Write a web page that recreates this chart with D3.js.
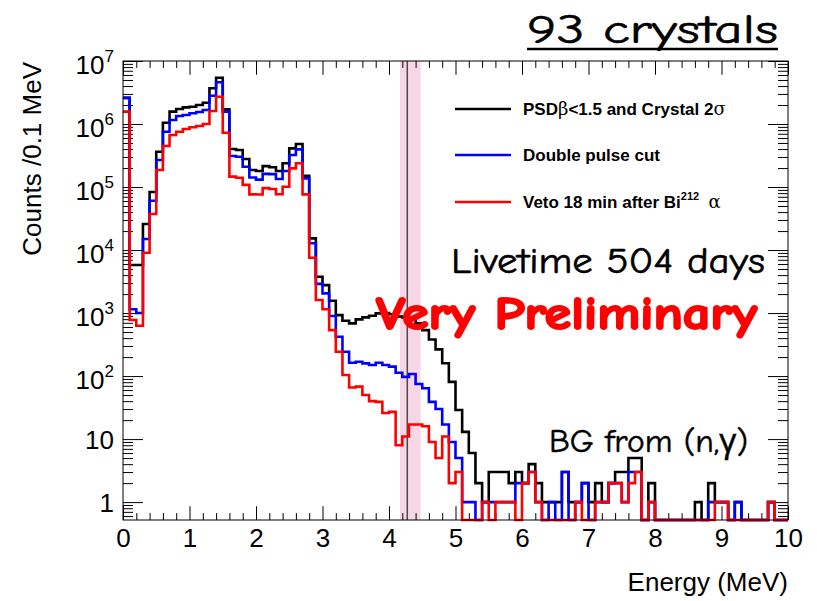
<!DOCTYPE html>
<html>
<head>
<meta charset="utf-8">
<script src="https://cdn.jsdelivr.net/npm/d3@7"></script>
<style>
  body { margin: 0; background: #fff; }
  svg { display: block; }
</style>
</head>
<body>
<svg id="chart" width="817" height="601"></svg>
<script>
// Energy spectrum, 100 bins of 0.1 MeV from 0 to 10 MeV
const binWidth = 0.1;
const energyRange = [0, 10];

// PSD beta < 1.5 and crystal 2 sigma selection
const countsPSD = [
  2600000, 5800, 5800, 25900, 83300, 363000, 1050000, 1570000, 1730000, 1840000,
  1880000, 2000000, 2180000, 3690000, 5430000, 1710000, 401000, 387000, 278000, 186000,
  180000, 215000, 206000, 180000, 238000, 411000, 482000, 151000, 15300, 3770,
  2780, 1570, 929, 755, 686, 794, 855, 906, 988, 1000,
  960, 880, 850, 790, 686, 537, 380, 265, 160, 81,
  29, 13, 6, 2, 1, 3, 3, 3, 2, 3,
  2, 4, 2, 1, 1, 1, 3, 1, 1, 2,
  1, 2, 1, 2, 3, 3, 5, 5, 0, 2,
  0, 0, 0, 0, 0, 0, 1, 0, 2, 1,
  1, 0, 1, 0, 0, 0, 0, 1, 0, 0
];

// after the double pulse cut
const countsDoublePulse = [
  2600000, 1150, 1000, 15000, 60600, 268000, 755000, 1160000, 1340000, 1390000,
  1480000, 1550000, 1670000, 2810000, 4590000, 1570000, 310000, 303000, 210000, 142000,
  131000, 162000, 160000, 134000, 180000, 322000, 396000, 137000, 12800, 2900,
  2050, 896, 421, 243, 163, 169, 159, 150, 163, 150,
  141, 113, 97, 108, 75, 64, 39, 30, 17, 9,
  5, 1, 1, 0, 1, 1, 1, 1, 1, 2,
  2, 3, 1, 0, 1, 0, 3, 0, 1, 2,
  0, 1, 1, 2, 2, 1, 3, 3, 0, 1,
  0, 0, 0, 0, 0, 0, 0, 0, 1, 1,
  1, 0, 1, 0, 0, 0, 0, 1, 0, 0
];

// after the 18 min veto following a Bi-212 alpha
const countsBiVeto = [
  1570000, 776, 630, 9060, 37300, 186000, 448000, 669000, 755000, 833000,
  887000, 930000, 1000000, 1610000, 2710000, 728000, 146000, 140000, 108000, 76600,
  76000, 96000, 93000, 77000, 101000, 198000, 238000, 76600, 7550, 1610,
  1150, 537, 243, 104, 66, 68, 50, 40, 39, 26,
  27, 8, 11, 17, 17, 16, 9, 5, 11, 2,
  3, 0, 0, 0, 1, 0, 1, 1, 1, 0,
  2, 3, 1, 0, 0, 0, 0, 0, 1, 0,
  0, 1, 1, 2, 2, 1, 2, 3, 0, 1,
  0, 0, 0, 0, 0, 0, 0, 0, 0, 1,
  1, 0, 0, 0, 0, 0, 0, 1, 0, 0
];

const xTickLabels = ["0", "1", "2", "3", "4", "5", "6", "7", "8", "9", "10"];
const yDecadeExponents = [0, 1, 2, 3, 4, 5, 6, 7];

// Q-value marker and its energy window (MeV)
const qValue = 4.275;
const qWindow = [4.165, 4.475];

// legend text, split where a Greek letter or superscript is set differently
const legendLabels = [
  [{ t: "PSD" }, { t: "β", greek: true }, { t: "<1.5 and Crystal 2" }, { t: "σ", greek: true }],
  [{ t: "Double pulse cut" }],
  [{ t: "Veto 18 min after Bi" }, { t: "212", sup: true }, { t: "  " }, { t: "α", greek: true }]
];

const annotations = {
  crystals: "93 crystals",
  livetime: "Livetime 504 days",
  preliminary: "Very Preliminary",
  background: "BG from (n,γ)"
};

// ---------------------------------------------------------------------------
const svg = d3.select("#chart");
const frame = { left: 123, right: 788, top: 61, bottom: 520 };
const axisFont = "'Liberation Sans', Arial, Helvetica, sans-serif";
const handFont = "'Comic Sans MS', 'Comic Neue', 'Open Sans', sans-serif";

const x = d3.scaleLinear().domain(energyRange).range([frame.left, frame.right]);
const y = d3.scaleLog().domain([0.52, 1e7]).range([frame.bottom, frame.top]);

svg.append("rect").attr("width", 817).attr("height", 601).attr("fill", "#fff");

// Q-value window and marker
svg.append("rect")
  .attr("x", x(qWindow[0])).attr("y", frame.top)
  .attr("width", x(qWindow[1]) - x(qWindow[0]))
  .attr("height", frame.bottom - frame.top)
  .attr("fill", "#f7d7e6");
svg.append("line")
  .attr("x1", x(qValue)).attr("x2", x(qValue))
  .attr("y1", frame.top).attr("y2", frame.bottom)
  .attr("stroke", "#4a4a4a").attr("stroke-width", 1.5);

// --- axes (ROOT style: inward ticks on all four sides) ---
const majorX = d3.range(0, 11);
const minorX = d3.range(0, 50).map(i => i * 0.2).filter(v => Math.abs(v - Math.round(v)) > 1e-6);
const majorY = yDecadeExponents.map(e => Math.pow(10, e));
const minorY = [];
for (let e = -1; e < 7; e++) {
  for (let k = 2; k <= 9; k++) {
    const v = k * Math.pow(10, e);
    if (v >= 0.52 && v <= 1e7) minorY.push(v);
  }
}

function styleAxis(g) {
  g.select(".domain").remove();
  g.selectAll(".tick line").attr("stroke", "#000").attr("stroke-width", 1);
}

const xMajorLen = 13.8, xMinorLen = 6.9, yMajorLen = 20, yMinorLen = 10;

const xBottom = svg.append("g").attr("transform", `translate(0,${frame.bottom})`)
  .call(d3.axisBottom(x).tickValues(majorX).tickSize(-xMajorLen).tickPadding(9)
    .tickFormat((d, i) => xTickLabels[i]))
  .call(styleAxis);
xBottom.selectAll(".tick text")
  .attr("font-family", axisFont).attr("font-size", 26).attr("fill", "#000");

svg.append("g").attr("transform", `translate(0,${frame.bottom})`)
  .call(d3.axisBottom(x).tickValues(minorX).tickSize(-xMinorLen).tickFormat(""))
  .call(styleAxis);
svg.append("g").attr("transform", `translate(0,${frame.top})`)
  .call(d3.axisTop(x).tickValues(majorX).tickSize(-xMajorLen).tickFormat(""))
  .call(styleAxis);
svg.append("g").attr("transform", `translate(0,${frame.top})`)
  .call(d3.axisTop(x).tickValues(minorX).tickSize(-xMinorLen).tickFormat(""))
  .call(styleAxis);

const yLeft = svg.append("g").attr("transform", `translate(${frame.left},0)`)
  .call(d3.axisLeft(y).tickValues(majorY).tickSize(-yMajorLen).tickPadding(9))
  .call(styleAxis);
yLeft.selectAll(".tick text").each(function (d) {
  const e = Math.round(Math.log10(d));
  const t = d3.select(this)
    .attr("font-family", axisFont).attr("font-size", 26).attr("fill", "#000")
    .text(null);
  if (e === 0) {
    t.attr("dy", "0.35em").text("1");
  } else if (e === 1) {
    t.attr("dy", "0.35em").text("10");
  } else {
    t.attr("dy", 12);
    t.append("tspan").text("10");
    t.append("tspan").attr("font-size", 17).attr("dy", -12).text(String(e));
  }
});

svg.append("g").attr("transform", `translate(${frame.left},0)`)
  .call(d3.axisLeft(y).tickValues(minorY).tickSize(-yMinorLen).tickFormat(""))
  .call(styleAxis);
svg.append("g").attr("transform", `translate(${frame.right},0)`)
  .call(d3.axisRight(y).tickValues(majorY).tickSize(-yMajorLen).tickFormat(""))
  .call(styleAxis);
svg.append("g").attr("transform", `translate(${frame.right},0)`)
  .call(d3.axisRight(y).tickValues(minorY).tickSize(-yMinorLen).tickFormat(""))
  .call(styleAxis);

// axis titles
svg.append("text")
  .attr("x", frame.right).attr("y", 591)
  .attr("text-anchor", "end")
  .attr("font-family", axisFont).attr("font-size", 26)
  .text("Energy (MeV)");
svg.append("text")
  .attr("transform", `translate(41,${frame.top + 1}) rotate(-90)`)
  .attr("text-anchor", "end")
  .attr("font-family", axisFont).attr("font-size", 26)
  .text("Counts /0.1 MeV");

// --- histograms ---
const series = [
  { values: countsPSD, color: "#000000" },
  { values: countsDoublePulse, color: "#0000ff" },
  { values: countsBiVeto, color: "#ff0000" }
];

const stepLine = d3.line()
  .x(d => x(d.e))
  .y(d => (d.v > 0 ? y(d.v) : frame.bottom))
  .curve(d3.curveStepAfter);

series.forEach(s => {
  const pts = s.values.map((v, i) => ({ e: energyRange[0] + i * binWidth, v }));
  pts.push({ e: energyRange[0] + s.values.length * binWidth, v: s.values[s.values.length - 1] });
  svg.append("path")
    .datum(pts)
    .attr("d", stepLine)
    .attr("fill", "none")
    .attr("stroke", s.color)
    .attr("stroke-width", 2.6)
    .attr("stroke-linejoin", "miter");
});

// plot frame
svg.append("rect")
  .attr("x", frame.left).attr("y", frame.top)
  .attr("width", frame.right - frame.left).attr("height", frame.bottom - frame.top)
  .attr("fill", "none").attr("stroke", "#000").attr("stroke-width", 1);

// --- legend ---
const legendY = [109, 155, 202];
legendLabels.forEach((parts, i) => {
  svg.append("line")
    .attr("x1", 455).attr("x2", 511)
    .attr("y1", legendY[i]).attr("y2", legendY[i])
    .attr("stroke", series[i].color).attr("stroke-width", 2.6);
  const t = svg.append("text")
    .attr("x", 523).attr("y", legendY[i] + 6)
    .attr("font-family", axisFont).attr("font-size", 17).attr("font-weight", "bold")
    .attr("xml:space", "preserve");
  parts.forEach(p => {
    const sp = t.append("tspan").text(p.t);
    if (p.greek) sp.attr("font-family", "'DejaVu Serif', 'Liberation Serif', serif").attr("font-weight", "normal").attr("font-size", 18);
    if (p.sup) sp.attr("font-size", 11).attr("baseline-shift", "70%");
  });
});

// --- annotations ---
svg.append("text")
  .attr("x", 527).attr("y", 43)
  .attr("font-family", handFont).attr("font-size", 40)
  .attr("stroke", "#000").attr("stroke-width", 0.6)
  .attr("textLength", 251).attr("lengthAdjust", "spacingAndGlyphs")
  .text(annotations.crystals);
svg.append("line")
  .attr("x1", 527).attr("x2", 778).attr("y1", 49).attr("y2", 49)
  .attr("stroke", "#000").attr("stroke-width", 2.5);

svg.append("text")
  .attr("x", 451).attr("y", 273)
  .attr("font-family", handFont).attr("font-size", 37)
  .attr("stroke", "#000").attr("stroke-width", 0.6)
  .attr("textLength", 314).attr("lengthAdjust", "spacingAndGlyphs")
  .text(annotations.livetime);

svg.append("text")
  .attr("x", 376).attr("y", 329)
  .attr("font-family", handFont).attr("font-size", 47).attr("font-weight", "bold")
  .attr("fill", "#ff0000").attr("stroke", "#ff0000").attr("stroke-width", 2)
  .attr("stroke-linejoin", "round")
  .attr("textLength", 381).attr("lengthAdjust", "spacingAndGlyphs")
  .text(annotations.preliminary);

svg.append("text")
  .attr("x", 549).attr("y", 452)
  .attr("font-family", handFont).attr("font-size", 32)
  .attr("stroke", "#000").attr("stroke-width", 0.5)
  .attr("textLength", 199).attr("lengthAdjust", "spacingAndGlyphs")
  .text(annotations.background);
</script>
</body>
</html>
